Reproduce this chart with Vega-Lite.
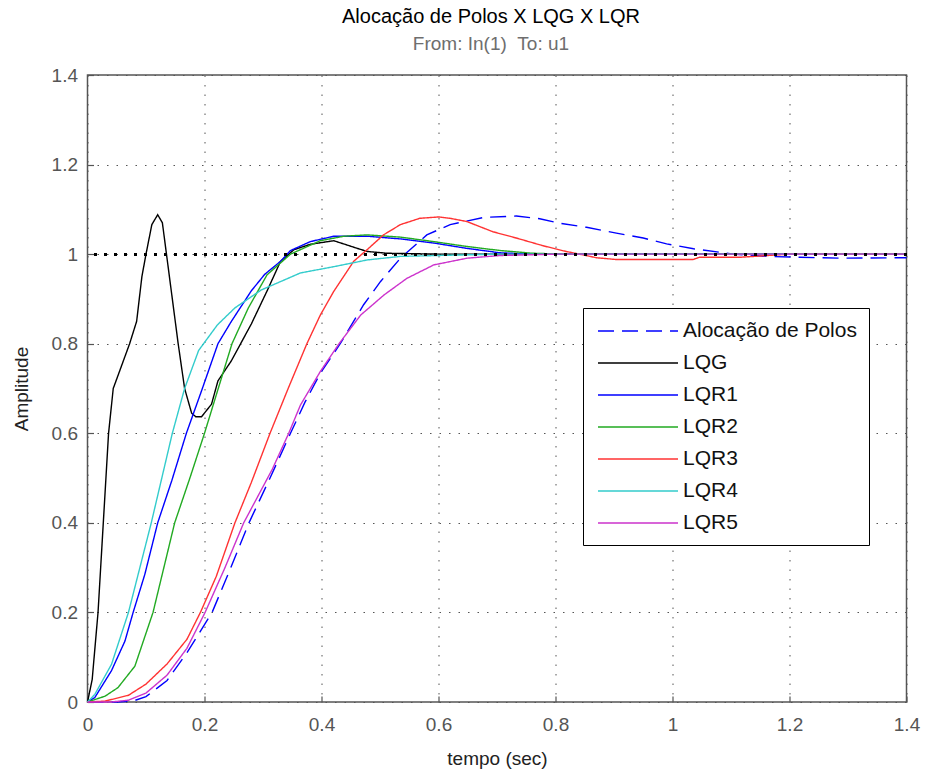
{
  "$schema": "https://vega.github.io/schema/vega-lite/v6.json",
  "width": 819,
  "height": 627,
  "autosize": {"type": "none"},
  "padding": {"left": 87.5, "top": 75, "right": 20, "bottom": 71},
  "background": "white",
  "config": {
    "font": "Liberation Sans",
    "view": {"stroke": "#555555", "strokeWidth": 1.5},
    "axis": {
      "domain": false,
      "grid": true,
      "gridColor": "#555555",
      "gridDash": [1.5, 8],
      "gridOpacity": 1,
      "gridWidth": 1,
      "tickSize": -6,
      "tickColor": "#555555",
      "tickWidth": 1.2,
      "labelFontSize": 19,
      "labelColor": "#555555",
      "labelFlush": false,
      "titleFontSize": 19,
      "titleFontWeight": "normal",
      "titleColor": "#222222"
    }
  },
  "title": {
    "text": "Alocação de Polos X LQG X LQR",
    "subtitle": "From: In(1)\u00a0\u00a0To: u1",
    "fontSize": 20,
    "fontWeight": "normal",
    "color": "#000000",
    "subtitleFontSize": 19,
    "subtitleColor": "#6e6e6e",
    "subtitlePadding": 8,
    "offset": 12,
    "anchor": "middle",
    "dx": -6
  },
  "data": {
    "values": [
      {"s": "Alocação de Polos", "t": 0, "y": 0},
      {"s": "Alocação de Polos", "t": 0.05, "y": 0},
      {"s": "Alocação de Polos", "t": 0.08, "y": 0.003},
      {"s": "Alocação de Polos", "t": 0.1, "y": 0.012},
      {"s": "Alocação de Polos", "t": 0.136, "y": 0.048},
      {"s": "Alocação de Polos", "t": 0.17, "y": 0.11},
      {"s": "Alocação de Polos", "t": 0.213, "y": 0.2},
      {"s": "Alocação de Polos", "t": 0.245, "y": 0.3},
      {"s": "Alocação de Polos", "t": 0.276, "y": 0.4},
      {"s": "Alocação de Polos", "t": 0.312, "y": 0.5},
      {"s": "Alocação de Polos", "t": 0.347, "y": 0.6},
      {"s": "Alocação de Polos", "t": 0.372, "y": 0.67},
      {"s": "Alocação de Polos", "t": 0.398, "y": 0.734},
      {"s": "Alocação de Polos", "t": 0.432, "y": 0.8},
      {"s": "Alocação de Polos", "t": 0.472, "y": 0.887},
      {"s": "Alocação de Polos", "t": 0.501, "y": 0.939},
      {"s": "Alocação de Polos", "t": 0.535, "y": 0.991},
      {"s": "Alocação de Polos", "t": 0.58, "y": 1.043},
      {"s": "Alocação de Polos", "t": 0.62, "y": 1.066},
      {"s": "Alocação de Polos", "t": 0.677, "y": 1.082},
      {"s": "Alocação de Polos", "t": 0.733, "y": 1.085},
      {"s": "Alocação de Polos", "t": 0.773, "y": 1.079},
      {"s": "Alocação de Polos", "t": 0.807, "y": 1.069},
      {"s": "Alocação de Polos", "t": 0.853, "y": 1.06},
      {"s": "Alocação de Polos", "t": 0.904, "y": 1.047},
      {"s": "Alocação de Polos", "t": 0.95, "y": 1.036},
      {"s": "Alocação de Polos", "t": 0.99, "y": 1.023},
      {"s": "Alocação de Polos", "t": 1.036, "y": 1.012},
      {"s": "Alocação de Polos", "t": 1.082, "y": 1.004},
      {"s": "Alocação de Polos", "t": 1.104, "y": 1.0},
      {"s": "Alocação de Polos", "t": 1.161, "y": 0.995},
      {"s": "Alocação de Polos", "t": 1.218, "y": 0.993},
      {"s": "Alocação de Polos", "t": 1.287, "y": 0.991},
      {"s": "Alocação de Polos", "t": 1.4, "y": 0.992},

      {"s": "LQG", "t": 0, "y": 0},
      {"s": "LQG", "t": 0.008, "y": 0.05},
      {"s": "LQG", "t": 0.018, "y": 0.2},
      {"s": "LQG", "t": 0.027, "y": 0.4},
      {"s": "LQG", "t": 0.036, "y": 0.6},
      {"s": "LQG", "t": 0.044, "y": 0.7},
      {"s": "LQG", "t": 0.058, "y": 0.75},
      {"s": "LQG", "t": 0.072, "y": 0.8},
      {"s": "LQG", "t": 0.084, "y": 0.85},
      {"s": "LQG", "t": 0.093, "y": 0.95},
      {"s": "LQG", "t": 0.1, "y": 1.0},
      {"s": "LQG", "t": 0.11, "y": 1.066},
      {"s": "LQG", "t": 0.12, "y": 1.088},
      {"s": "LQG", "t": 0.128, "y": 1.07},
      {"s": "LQG", "t": 0.135, "y": 1.0},
      {"s": "LQG", "t": 0.145, "y": 0.9},
      {"s": "LQG", "t": 0.155, "y": 0.8},
      {"s": "LQG", "t": 0.166, "y": 0.7},
      {"s": "LQG", "t": 0.178, "y": 0.645},
      {"s": "LQG", "t": 0.185, "y": 0.637},
      {"s": "LQG", "t": 0.195, "y": 0.637},
      {"s": "LQG", "t": 0.212, "y": 0.665},
      {"s": "LQG", "t": 0.223, "y": 0.717},
      {"s": "LQG", "t": 0.246, "y": 0.762},
      {"s": "LQG", "t": 0.28, "y": 0.844},
      {"s": "LQG", "t": 0.307, "y": 0.918},
      {"s": "LQG", "t": 0.33, "y": 0.984},
      {"s": "LQG", "t": 0.353, "y": 1.01},
      {"s": "LQG", "t": 0.381, "y": 1.022},
      {"s": "LQG", "t": 0.421, "y": 1.03},
      {"s": "LQG", "t": 0.461, "y": 1.013},
      {"s": "LQG", "t": 0.478, "y": 1.006},
      {"s": "LQG", "t": 0.512, "y": 1.002},
      {"s": "LQG", "t": 0.6, "y": 1.0},
      {"s": "LQG", "t": 1.4, "y": 1.0},

      {"s": "LQR1", "t": 0, "y": 0},
      {"s": "LQR1", "t": 0.0125, "y": 0.01},
      {"s": "LQR1", "t": 0.041, "y": 0.07},
      {"s": "LQR1", "t": 0.064, "y": 0.136},
      {"s": "LQR1", "t": 0.078, "y": 0.2},
      {"s": "LQR1", "t": 0.098, "y": 0.285},
      {"s": "LQR1", "t": 0.12, "y": 0.4},
      {"s": "LQR1", "t": 0.144, "y": 0.494},
      {"s": "LQR1", "t": 0.169, "y": 0.6},
      {"s": "LQR1", "t": 0.195, "y": 0.695},
      {"s": "LQR1", "t": 0.223, "y": 0.8},
      {"s": "LQR1", "t": 0.246, "y": 0.85},
      {"s": "LQR1", "t": 0.28, "y": 0.918},
      {"s": "LQR1", "t": 0.303, "y": 0.955},
      {"s": "LQR1", "t": 0.33, "y": 0.984},
      {"s": "LQR1", "t": 0.347, "y": 1.008},
      {"s": "LQR1", "t": 0.381, "y": 1.028},
      {"s": "LQR1", "t": 0.421, "y": 1.04},
      {"s": "LQR1", "t": 0.478, "y": 1.04},
      {"s": "LQR1", "t": 0.535, "y": 1.034},
      {"s": "LQR1", "t": 0.591, "y": 1.025},
      {"s": "LQR1", "t": 0.648, "y": 1.013},
      {"s": "LQR1", "t": 0.705, "y": 1.003},
      {"s": "LQR1", "t": 0.76, "y": 1.0},
      {"s": "LQR1", "t": 1.4, "y": 1.0},

      {"s": "LQR2", "t": 0, "y": 0},
      {"s": "LQR2", "t": 0.03, "y": 0.013},
      {"s": "LQR2", "t": 0.052, "y": 0.032},
      {"s": "LQR2", "t": 0.081, "y": 0.08},
      {"s": "LQR2", "t": 0.112, "y": 0.2},
      {"s": "LQR2", "t": 0.149, "y": 0.4},
      {"s": "LQR2", "t": 0.175, "y": 0.5},
      {"s": "LQR2", "t": 0.2, "y": 0.6},
      {"s": "LQR2", "t": 0.247, "y": 0.8},
      {"s": "LQR2", "t": 0.275, "y": 0.88},
      {"s": "LQR2", "t": 0.307, "y": 0.954},
      {"s": "LQR2", "t": 0.347, "y": 1.0},
      {"s": "LQR2", "t": 0.398, "y": 1.03},
      {"s": "LQR2", "t": 0.438, "y": 1.04},
      {"s": "LQR2", "t": 0.478, "y": 1.043},
      {"s": "LQR2", "t": 0.535, "y": 1.038},
      {"s": "LQR2", "t": 0.592, "y": 1.028},
      {"s": "LQR2", "t": 0.649, "y": 1.017},
      {"s": "LQR2", "t": 0.706, "y": 1.008},
      {"s": "LQR2", "t": 0.76, "y": 1.002},
      {"s": "LQR2", "t": 0.82, "y": 1.0},
      {"s": "LQR2", "t": 1.4, "y": 1.0},

      {"s": "LQR3", "t": 0, "y": 0},
      {"s": "LQR3", "t": 0.03, "y": 0.002},
      {"s": "LQR3", "t": 0.07, "y": 0.015},
      {"s": "LQR3", "t": 0.1, "y": 0.04},
      {"s": "LQR3", "t": 0.136, "y": 0.085},
      {"s": "LQR3", "t": 0.17, "y": 0.14},
      {"s": "LQR3", "t": 0.193, "y": 0.2},
      {"s": "LQR3", "t": 0.22, "y": 0.28},
      {"s": "LQR3", "t": 0.252, "y": 0.4},
      {"s": "LQR3", "t": 0.28, "y": 0.49},
      {"s": "LQR3", "t": 0.312, "y": 0.6},
      {"s": "LQR3", "t": 0.343, "y": 0.7},
      {"s": "LQR3", "t": 0.375, "y": 0.8},
      {"s": "LQR3", "t": 0.398, "y": 0.864},
      {"s": "LQR3", "t": 0.421, "y": 0.917},
      {"s": "LQR3", "t": 0.455, "y": 0.984},
      {"s": "LQR3", "t": 0.478, "y": 1.01},
      {"s": "LQR3", "t": 0.506, "y": 1.043},
      {"s": "LQR3", "t": 0.535, "y": 1.066},
      {"s": "LQR3", "t": 0.568, "y": 1.08},
      {"s": "LQR3", "t": 0.6, "y": 1.083},
      {"s": "LQR3", "t": 0.62, "y": 1.08},
      {"s": "LQR3", "t": 0.648, "y": 1.073},
      {"s": "LQR3", "t": 0.693, "y": 1.05},
      {"s": "LQR3", "t": 0.733, "y": 1.036},
      {"s": "LQR3", "t": 0.778, "y": 1.019},
      {"s": "LQR3", "t": 0.818, "y": 1.006},
      {"s": "LQR3", "t": 0.841, "y": 1.0},
      {"s": "LQR3", "t": 0.87, "y": 0.992},
      {"s": "LQR3", "t": 0.904, "y": 0.988},
      {"s": "LQR3", "t": 1.035, "y": 0.988},
      {"s": "LQR3", "t": 1.046, "y": 0.993},
      {"s": "LQR3", "t": 1.115, "y": 0.993},
      {"s": "LQR3", "t": 1.2, "y": 1.0},
      {"s": "LQR3", "t": 1.4, "y": 1.0},

      {"s": "LQR4", "t": 0, "y": 0},
      {"s": "LQR4", "t": 0.0125, "y": 0.017},
      {"s": "LQR4", "t": 0.041, "y": 0.084},
      {"s": "LQR4", "t": 0.07, "y": 0.2},
      {"s": "LQR4", "t": 0.109, "y": 0.4},
      {"s": "LQR4", "t": 0.145, "y": 0.6},
      {"s": "LQR4", "t": 0.166, "y": 0.7},
      {"s": "LQR4", "t": 0.19, "y": 0.785},
      {"s": "LQR4", "t": 0.222, "y": 0.842},
      {"s": "LQR4", "t": 0.252, "y": 0.88},
      {"s": "LQR4", "t": 0.297, "y": 0.92},
      {"s": "LQR4", "t": 0.364, "y": 0.958},
      {"s": "LQR4", "t": 0.421, "y": 0.972},
      {"s": "LQR4", "t": 0.478, "y": 0.987},
      {"s": "LQR4", "t": 0.535, "y": 0.995},
      {"s": "LQR4", "t": 0.6, "y": 0.997},
      {"s": "LQR4", "t": 0.7, "y": 1.0},
      {"s": "LQR4", "t": 1.4, "y": 1.0},

      {"s": "LQR5", "t": 0, "y": 0},
      {"s": "LQR5", "t": 0.04, "y": 0},
      {"s": "LQR5", "t": 0.07, "y": 0.004},
      {"s": "LQR5", "t": 0.1, "y": 0.02},
      {"s": "LQR5", "t": 0.136, "y": 0.06},
      {"s": "LQR5", "t": 0.17, "y": 0.12},
      {"s": "LQR5", "t": 0.201, "y": 0.2},
      {"s": "LQR5", "t": 0.235, "y": 0.3},
      {"s": "LQR5", "t": 0.267, "y": 0.4},
      {"s": "LQR5", "t": 0.316, "y": 0.52},
      {"s": "LQR5", "t": 0.344, "y": 0.6},
      {"s": "LQR5", "t": 0.364, "y": 0.663},
      {"s": "LQR5", "t": 0.398, "y": 0.738},
      {"s": "LQR5", "t": 0.43, "y": 0.8},
      {"s": "LQR5", "t": 0.467, "y": 0.864},
      {"s": "LQR5", "t": 0.507, "y": 0.909},
      {"s": "LQR5", "t": 0.546, "y": 0.946},
      {"s": "LQR5", "t": 0.592, "y": 0.976},
      {"s": "LQR5", "t": 0.649, "y": 0.991},
      {"s": "LQR5", "t": 0.706, "y": 0.997},
      {"s": "LQR5", "t": 0.8, "y": 1.0},
      {"s": "LQR5", "t": 1.4, "y": 1.0}
    ]
  },
  "layer": [
    {
      "mark": {"type": "line", "strokeWidth": 1.4},
      "encoding": {
        "x": {
          "field": "t",
          "type": "quantitative",
          "scale": {"domain": [0, 1.4], "nice": false, "zero": false},
          "axis": {
            "values": [0, 0.2, 0.4, 0.6, 0.8, 1, 1.2, 1.4],
            "format": "~g",
            "title": "tempo (sec)",
            "labelPadding": 19,
            "titlePadding": 15
          }
        },
        "y": {
          "field": "y",
          "type": "quantitative",
          "scale": {"domain": [0, 1.4], "nice": false, "zero": false},
          "axis": {
            "values": [0, 0.2, 0.4, 0.6, 0.8, 1, 1.2, 1.4],
            "format": "~g",
            "title": "Amplitude",
            "labelPadding": 16,
            "titlePadding": 20
          }
        },
        "color": {
          "field": "s",
          "type": "nominal",
          "scale": {
            "domain": ["Alocação de Polos", "LQG", "LQR1", "LQR2", "LQR3", "LQR4", "LQR5"],
            "range": ["#0000FF", "#000000", "#0000FF", "#22AA22", "#FF3333", "#33CCCC", "#CC33CC"]
          },
          "legend": {
            "title": null,
            "orient": "none",
            "legendX": 495.5,
            "legendY": 233,
            "padding": 12,
            "rowPadding": 11,
            "strokeColor": "#000000",
            "fillColor": "#FFFFFF",
            "symbolType": "M-4,0H4",
            "symbolSize": 400,
            "symbolOffset": 32,
            "symbolStrokeWidth": 1.5,
            "labelOffset": 34,
            "labelLimit": 400,
            "labelFontSize": 21,
            "labelColor": "#111111",
            "labelFont": "Liberation Sans"
          }
        },
        "strokeDash": {
          "field": "s",
          "type": "nominal",
          "scale": {
            "domain": ["Alocação de Polos", "LQG", "LQR1", "LQR2", "LQR3", "LQR4", "LQR5"],
            "range": [[16, 8], [1, 0], [1, 0], [1, 0], [1, 0], [1, 0], [1, 0]]
          },
          "legend": {
            "title": null,
            "orient": "none",
            "legendX": 495.5,
            "legendY": 233,
            "padding": 12,
            "rowPadding": 11,
            "strokeColor": "#000000",
            "fillColor": "#FFFFFF",
            "symbolType": "M-4,0H4",
            "symbolSize": 400,
            "symbolOffset": 32,
            "symbolStrokeWidth": 1.5,
            "labelOffset": 34,
            "labelLimit": 400,
            "labelFontSize": 21,
            "labelColor": "#111111",
            "labelFont": "Liberation Sans"
          }
        }
      }
    },
    {
      "mark": {"type": "rule", "color": "#000000", "strokeDash": [2.5, 7.5], "strokeWidth": 2},
      "encoding": {"y": {"datum": 1}}
    }
  ]
}
